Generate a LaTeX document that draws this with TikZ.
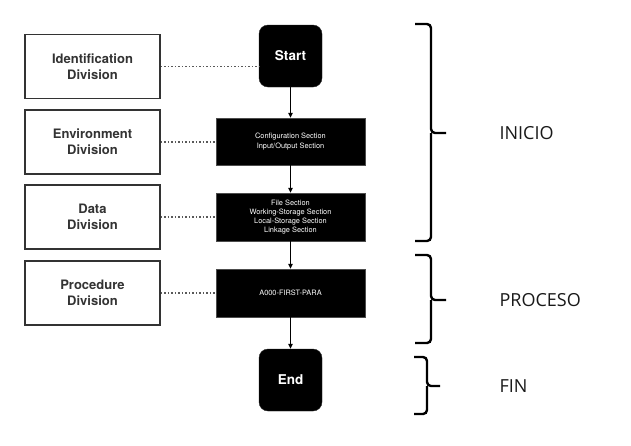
\documentclass[tikz,border=0pt]{standalone}
\usepackage{fontspec}
\setmainfont{TeX Gyre Heros}
\newfontfamily\bracefont{Open Sans}
\usetikzlibrary{arrows.meta}
\begin{document}
\begin{tikzpicture}[x=1pt,y=-1pt,
  divbox/.style={draw=black!80,line width=1.5pt,fill=white,minimum width=135pt,minimum height=64pt,inner sep=0pt,
    align=center,font=\fontsize{13}{16}\selectfont\bfseries,text=black!80},
  termbox/.style={fill=black,draw=black!85,rounded corners=9pt,minimum width=63pt,minimum height=62pt,inner sep=0pt,
    text=white,font=\fontsize{13.5}{16}\selectfont\bfseries},
  secbox/.style={fill=black,draw=black!70,minimum width=149pt,minimum height=48pt,inner sep=0pt,align=center,
    text=white,font=\fontsize{7.4}{9.3}\selectfont},
  flow/.style={line width=1.1pt,-{Triangle[length=5pt,width=4.5pt]}},
  dotline/.style={draw=black!65,line width=1.5pt,dash pattern=on 1.5pt off 2pt},
  brace/.style={line width=2.4pt,rounded corners=4pt},
  phase/.style={anchor=west,font=\bracefont\fontsize{18}{20}\selectfont,text=black!90}]
\useasboundingbox (0,0) rectangle (631,445);
\fill[white] (0,0) rectangle (631,445);

\node[divbox] (ident) at (92.5,66.5) {Identification\\Division};
\node[divbox] (env) at (92.5,142) {Environment\\Division};
\node[divbox] (data) at (92.5,217) {Data\\Division};
\node[divbox] (proc) at (92.5,293) {Procedure\\Division};

\node[termbox] (start) at (290.5,56) {Start};
\node[secbox,minimum height=47pt] (config) at (290.5,141.5) {Configuration Section\\Input/Output Section};
\node[secbox] (datasec) at (290.5,217) {File Section\\Working-Storage Section\\Local-Storage Section\\Linkage Section};
\node[secbox] (para) at (290.5,293) {A000-FIRST-PARA};
\node[termbox] (end) at (290.5,380) {End};

\draw[flow] (start) -- (config);
\draw[flow] (config) -- (datasec);
\draw[flow] (datasec) -- (para);
\draw[flow] (para) -- (end);

\draw[dotline] (ident.east) -- (ident.east -| start.west);
\draw[dotline] (env.east) -- (env.east -| config.west);
\draw[dotline] (data.east) -- (data.east -| datasec.west);
\draw[dotline] (proc.east) -- (proc.east -| para.west);

% braces
\coordinate (b1t) at (415,24); \coordinate (b1m) at (446,133); \coordinate (b1b) at (415,241);
\draw[brace] (b1t) -- (431,24) -- (431,133) -- (b1m);
\draw[brace] (b1b) -- (431,241) -- (431,133);
\coordinate (b2t) at (415,255); \coordinate (b2m) at (446,300); \coordinate (b2b) at (415,343);
\draw[brace] (b2t) -- (431,255) -- (431,300) -- (b2m);
\draw[brace] (b2b) -- (431,343) -- (431,300);
\coordinate (b3t) at (414,357); \coordinate (b3m) at (440,386); \coordinate (b3b) at (414,414);
\draw[brace] (b3t) -- (427,357) -- (427,386) -- (b3m);
\draw[brace] (b3b) -- (427,414) -- (427,386);

\node[phase] (inicio) at (496,133) {INICIO};
\node[phase] (proceso) at (496,300) {PROCESO};
\node[phase] (fin) at (496,386) {FIN};
\end{tikzpicture}
\end{document}
